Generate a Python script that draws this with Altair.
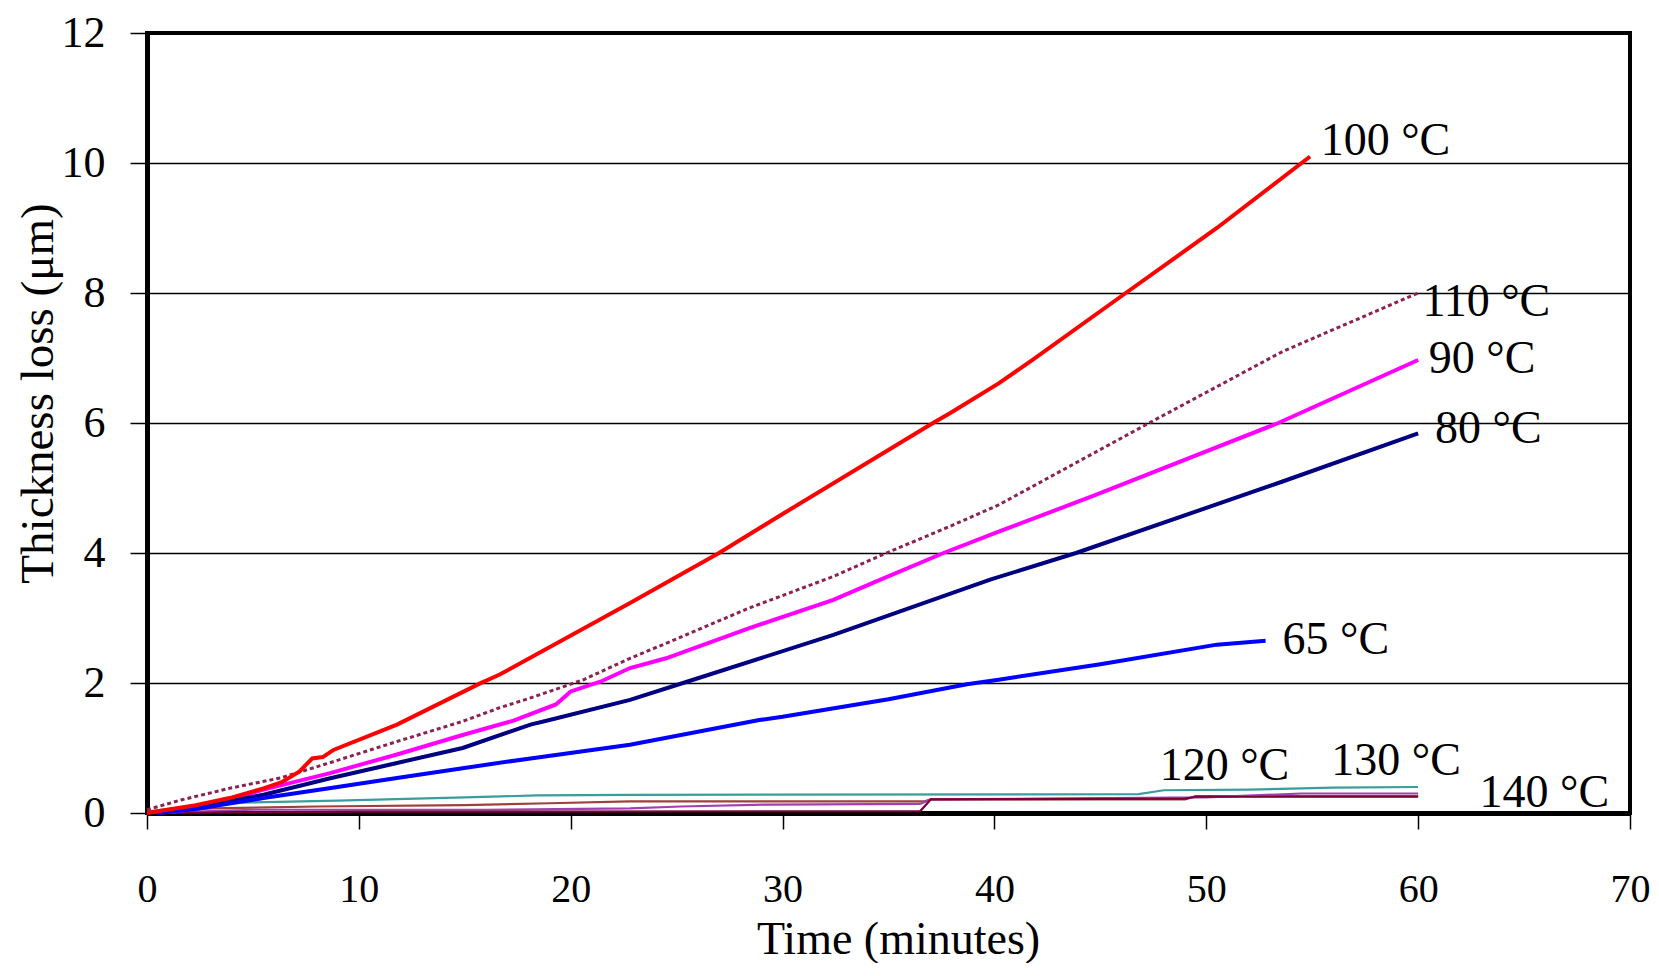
import altair as alt
import pandas as pd

# ---------------- data ----------------
t100 = [0, 2.3, 3.9, 5.5, 6.4, 7.2, 7.8, 8.3, 8.8, 11.8, 15.7, 16.65, 22.8, 27.0, 30.0, 37.1, 37.9, 40.2, 41.8, 46.2, 50.5, 54.9]
v100 = [0.0, 0.12, 0.23, 0.38, 0.48, 0.64, 0.84, 0.86, 0.97, 1.36, 1.99, 2.13, 3.23, 4.0, 4.6, 6.0, 6.15, 6.61, 6.97, 8.0, 9.0, 10.1]

t110 = [0, 1.6, 3.9, 6.3, 8.6, 11.8, 14.9, 16.65, 18.1, 20.6, 22.8, 24.5, 28.4, 32.4, 34.9, 37.9, 40.2, 47.3, 53.6, 60]
v110 = [0.05, 0.2, 0.38, 0.54, 0.77, 1.1, 1.41, 1.62, 1.77, 2.05, 2.38, 2.61, 3.15, 3.64, 4.0, 4.41, 4.74, 6.0, 7.1, 8.0]

t90 = [0.5, 2.3, 3.9, 5.5, 8.6, 11.8, 14.9, 17.3, 19.3, 20.0, 21.4, 22.8, 24.5, 28.4, 32.4, 34.4, 37.6, 40.2, 44.6, 53.4, 60]
v90 = [0.0, 0.06, 0.2, 0.36, 0.61, 0.9, 1.2, 1.42, 1.67, 1.87, 2.02, 2.23, 2.38, 2.84, 3.28, 3.56, 4.0, 4.33, 4.87, 6.0, 6.97]

t80 = [0.5, 3.9, 5.5, 8.6, 11.8, 14.9, 18.1, 19.0, 22.8, 25.3, 32.4, 39.8, 43.85, 53.6, 60]
v80 = [0.0, 0.18, 0.28, 0.53, 0.77, 1.0, 1.36, 1.43, 1.74, 2.0, 2.74, 3.59, 4.0, 5.1, 5.84]

t65 = [0.5, 2.3, 5.5, 8.6, 11.8, 14.9, 18.1, 22.8, 28.9, 30.0, 35.0, 38.7, 40.2, 45.0, 50.5, 52.8]
v65 = [0.0, 0.06, 0.23, 0.38, 0.54, 0.69, 0.84, 1.05, 1.43, 1.48, 1.75, 1.98, 2.05, 2.29, 2.59, 2.65]

t120 = [0, 3, 9, 15, 18.4, 22.8, 46.8, 48, 52, 56, 60]
v120 = [0.02, 0.15, 0.19, 0.24, 0.27, 0.28, 0.29, 0.35, 0.36, 0.39, 0.40]

t130 = [0, 3, 8, 15, 19, 22.8, 36.7, 37, 49, 49.5, 60]
v130 = [0.0, 0.07, 0.1, 0.12, 0.15, 0.18, 0.18, 0.21, 0.21, 0.26, 0.26]

t140 = [0, 5, 16, 22.8, 25.2, 29.3, 36.5, 37, 50, 54.5, 60]
v140 = [0.0, 0.05, 0.05, 0.07, 0.1, 0.13, 0.14, 0.21, 0.24, 0.3, 0.3]

tlow = [0, 10, 36.5, 37, 49, 49.5, 60]
vlow = [0.0, 0.02, 0.03, 0.21, 0.22, 0.25, 0.25]

series_names = ["140", "low", "130", "120", "65", "80", "90", "110", "100"]
series_colors = ["#A040B0", "#7A0038", "#A0403C", "#3A9C9C", "#0000FF", "#000080", "#FF00FF", "#8B2252", "#FF0000"]

label_text = ["100 °C", "110 °C", "90 °C", "80 °C", "65 °C", "120 °C", "130 °C", "140 °C"]
label_t = [55.4, 60.2, 60.5, 60.8, 53.6, 47.8, 55.9, 62.9]
label_v = [10.13, 7.64, 6.77, 5.69, 2.44, 0.51, 0.59, 0.09]

x_ticks = [0, 10, 20, 30, 40, 50, 60, 70]
y_ticks = [0, 2, 4, 6, 8, 10, 12]

# ---------------- build table ----------------
rows = []
for name, ts, vs in [("100", t100, v100), ("110", t110, v110), ("90", t90, v90),
                     ("80", t80, v80), ("65", t65, v65), ("120", t120, v120),
                     ("130", t130, v130), ("140", t140, v140), ("low", tlow, vlow)]:
    for t, v in zip(ts, vs):
        rows.append({"series": name, "t": t, "v": v})
df = pd.DataFrame(rows)
lab_df = pd.DataFrame({"label": label_text, "t": label_t, "v": label_v})

FONT = "Liberation Serif"

x_enc = alt.X("t:Q",
              scale=alt.Scale(domain=[0, 70], nice=False, zero=True),
              axis=alt.Axis(values=x_ticks, grid=False, tickSize=16, tickWidth=1.5,
                            tickColor="black", domainColor="black", domainWidth=5,
                            labelFont=FONT, labelFontSize=40, labelColor="black",
                            labelPadding=40, labelFlush=False, labelOverlap=False,
                            title="Time (minutes)", titleFont=FONT, titleFontSize=46,
                            titleFontWeight="normal", titleColor="black",
                            titleX=751, titleY=140, titleAlign="center",
                            titleBaseline="alphabetic"))
y_enc = alt.Y("v:Q",
              scale=alt.Scale(domain=[0, 12], nice=False, zero=True),
              axis=alt.Axis(values=y_ticks, grid=True, gridColor="black", gridWidth=1.5,
                            tickSize=17, tickWidth=1.5, tickColor="black",
                            domainColor="black", domainWidth=5,
                            labelFont=FONT, labelFontSize=44, labelColor="black",
                            labelPadding=25, labelFlush=False, labelOverlap=False,
                            title="Thickness loss (μm)", titleFont=FONT, titleFontSize=47,
                            titleFontWeight="normal", titleColor="black",
                            titleX=-95, titleY=360, titleAngle=270, titleAlign="center",
                            titleBaseline="alphabetic"))
c_enc = alt.Color("series:N", scale=alt.Scale(domain=series_names, range=series_colors),
                  legend=None)

base = alt.Chart(df).encode(x=x_enc, y=y_enc, color=c_enc)

low = base.transform_filter(
    alt.FieldOneOfPredicate(field="series", oneOf=["140", "low", "130", "120"])
).mark_line(strokeWidth=2.2)

mid = base.transform_filter(
    alt.FieldOneOfPredicate(field="series", oneOf=["65", "80", "90"])
).mark_line(strokeWidth=4)

dotted = base.transform_filter(
    alt.FieldEqualPredicate(field="series", equal="110")
).mark_line(strokeWidth=3, strokeDash=[4, 3])

red = base.transform_filter(
    alt.FieldEqualPredicate(field="series", equal="100")
).mark_line(strokeWidth=4)

labels = alt.Chart(lab_df).mark_text(
    align="left", baseline="alphabetic", font=FONT, fontSize=46, color="black"
).encode(x=x_enc, y=y_enc, text="label:N")

chart = alt.layer(low, mid, dotted, red, labels).properties(
    width=1483, height=780,
    autosize=alt.AutoSizeParams(type="none"),
    padding={"left": 139, "top": 25, "right": 20, "bottom": 150},
    background="white",
).configure_view(stroke="black", strokeWidth=4)

chart.save("out.html", embed_options={"renderer": "svg", "actions": False})
